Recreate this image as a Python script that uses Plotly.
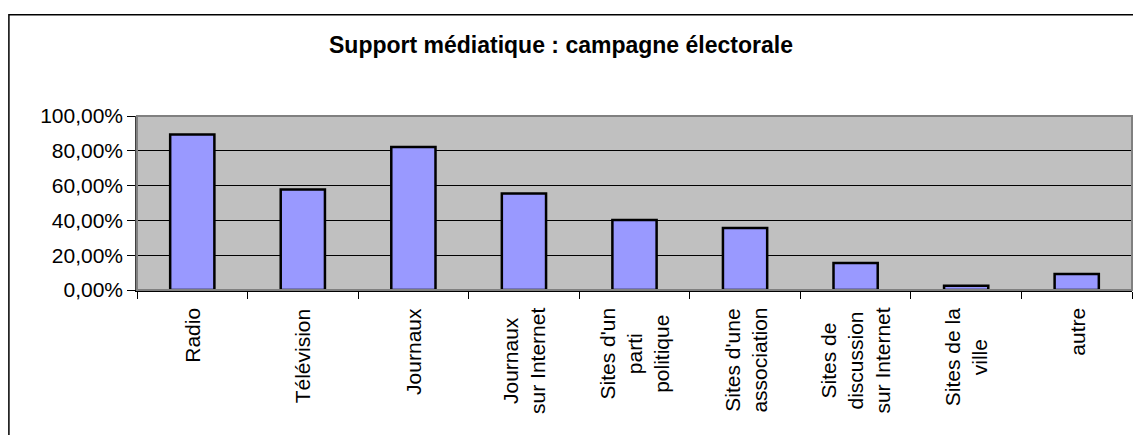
import plotly.graph_objects as go

categories = ["Radio", "Télévision", "Journaux", "Journaux sur Internet",
              "Sites d'un parti politique", "Sites d'une association",
              "Sites de discussion sur Internet", "Sites de la ville", "autre"]
category_labels = ["Radio", "Télévision", "Journaux", "Journaux<br>sur Internet",
                   "Sites d'un<br>parti<br>politique", "Sites d'une<br>association",
                   "Sites de<br>discussion<br>sur Internet", "Sites de la<br>ville", "autre"]
values = [0.893, 0.578, 0.822, 0.555, 0.402, 0.357, 0.155, 0.025, 0.092]
y_ticks = [0, 0.2, 0.4, 0.6, 0.8, 1.0]
title_text = "Support médiatique : campagne électorale"

FONT = "Liberation Sans, Arial, sans-serif"
OFF = 8  # page body margin
W, H = 1141 - OFF, 435 - OFF
# target plot area in screenshot pixels: x 137..1132, y 116..290
L, R, T, B = 137 - OFF, 9, 116 - OFF, 145
pw, ph = W - L - R, H - T - B

def px_x(px):
    return (px - OFF - L) / pw

def px_y(py):
    return (H - B - (py - OFF)) / ph

fig = go.Figure()
fig.add_trace(go.Bar(
    x=categories, y=values,
    marker=dict(color="#9999FF", line=dict(color="black", width=2.5)),
    hoverinfo="skip",
))

annotations = [
    dict(x=c, y=0, xref="x", yref="paper", text=lab, showarrow=False,
         textangle=-90, xanchor="center", yanchor="top", yshift=-16,
         align="center", font=dict(family=FONT, size=21, color="black"))
    for c, lab in zip(categories, category_labels)
]
annotations.append(dict(
    x=px_x(561), y=px_y(45), xref="paper", yref="paper",
    text="<b>" + title_text + "</b>", showarrow=False, xanchor="center", yanchor="middle",
    font=dict(family=FONT, size=23, color="black"),
))

shapes = [
    dict(type="rect", xref="paper", yref="paper", x0=0, y0=0, x1=1, y1=1,
         line=dict(color="#808080", width=2), layer="above"),
    dict(type="rect", xref="paper", yref="paper",
         x0=px_x(OFF + 0.9), y0=px_y(14.7), x1=px_x(1170), y1=px_y(470),
         line=dict(color="black", width=1.5), layer="above"),
]

fig.update_layout(
    width=W, height=H,
    margin=dict(l=L, r=R, t=T, b=B, pad=0),
    paper_bgcolor="white",
    plot_bgcolor="#C0C0C0",
    bargap=0.6,
    showlegend=False,
    separators=", ",
    font=dict(family=FONT, size=21, color="black"),
    annotations=annotations,
    shapes=shapes,
)
fig.update_xaxes(
    type="category", showticklabels=False, ticks="outside", ticklen=7,
    tickcolor="black", tickwidth=1, tickson="boundaries",
    showline=True, linecolor="black", linewidth=1.5, showgrid=False,
)
fig.update_yaxes(
    range=[0, 1], tickvals=y_ticks, tickformat=".2%", ticks="outside", ticklen=8,
    tickcolor="black", tickwidth=1, showline=True, linecolor="#404040", linewidth=1.5,
    showgrid=True, gridcolor="black", gridwidth=1, zeroline=False,
    tickfont=dict(family=FONT, size=21, color="black"),
)

fig.write_html("out.html")
